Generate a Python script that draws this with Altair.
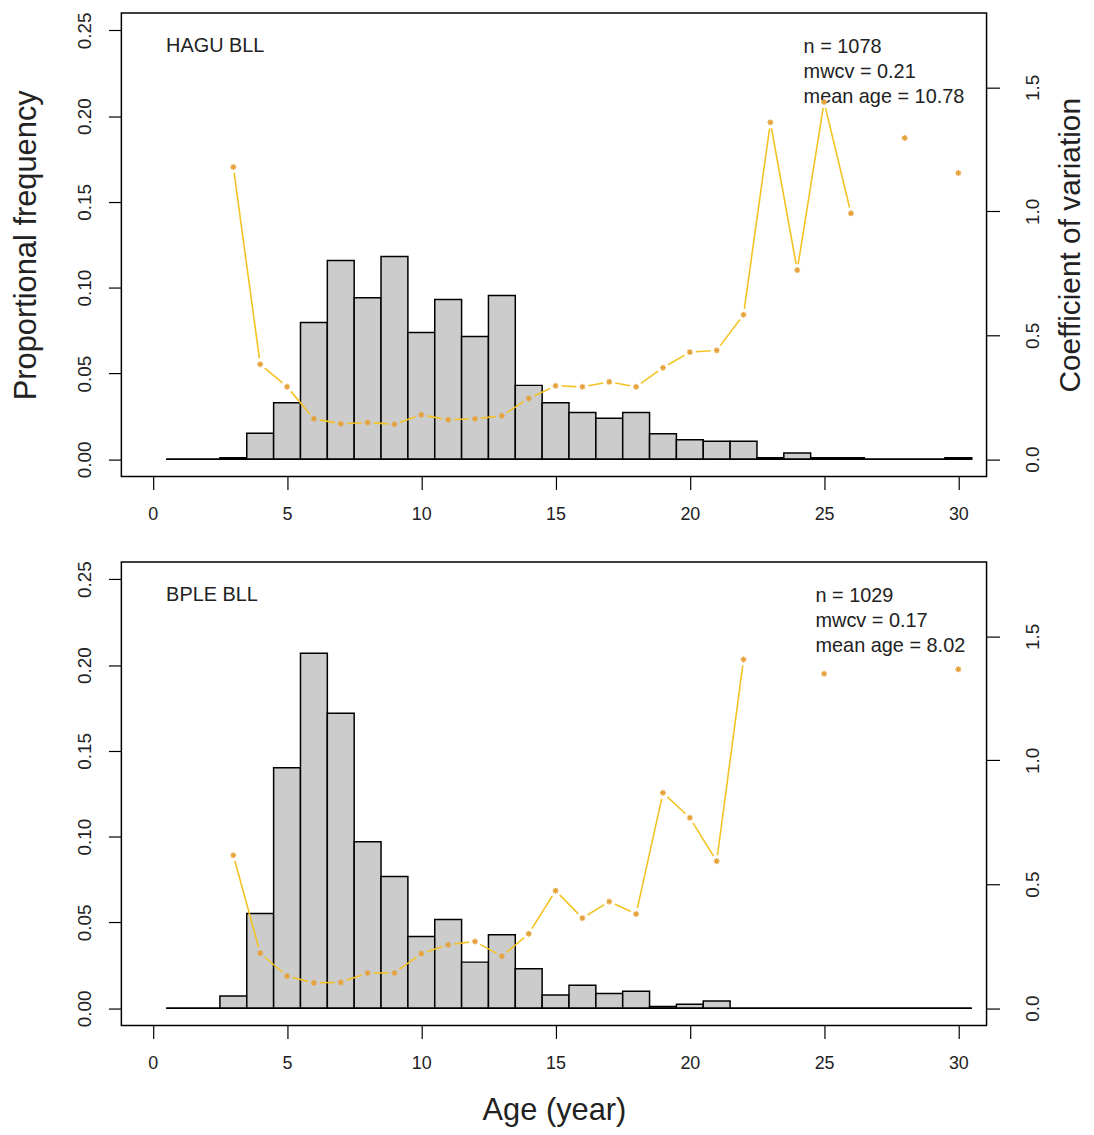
import altair as alt
import pandas as pd
import math

# ---------------- data ----------------
ages = list(range(1, 31))

hagu_freq = [0, 0, 0.001, 0.0152, 0.033, 0.0797, 0.1159, 0.0941, 0.1182, 0.0739,
             0.0931, 0.0716, 0.0955, 0.0431, 0.033, 0.0273, 0.0239, 0.0273, 0.0149, 0.0114,
             0.0105, 0.0105, 0.001, 0.0037, 0.001, 0.001, 0, 0, 0, 0.001]
bple_freq = [0, 0, 0.0071, 0.0553, 0.1402, 0.2068, 0.1719, 0.097, 0.0768, 0.0419,
             0.0518, 0.0269, 0.0428, 0.023, 0.0077, 0.0134, 0.0086, 0.01, 0.001, 0.0023,
             0.0042, 0, 0, 0, 0, 0, 0, 0, 0, 0]

hagu_cv_ages = list(range(3, 27)) + [28, 30]
hagu_cv = [1.179, 0.383, 0.292, 0.163, 0.143, 0.148, 0.141, 0.179, 0.159, 0.163,
           0.175, 0.245, 0.296, 0.292, 0.312, 0.292, 0.369, 0.432, 0.439, 0.583,
           1.359, 0.763, 1.441, 0.992, 1.296, 1.155]
bple_cv_ages = list(range(3, 23)) + [25, 30]
bple_cv = [0.617, 0.222, 0.129, 0.102, 0.104, 0.142, 0.142, 0.22, 0.256, 0.269,
           0.209, 0.3, 0.474, 0.363, 0.43, 0.38, 0.869, 0.768, 0.593, 1.407,
           1.349, 1.367]

hagu_label = "HAGU BLL"
bple_label = "BPLE BLL"
hagu_stats = ["n = 1078", "mwcv = 0.21", "mean age = 10.78"]
bple_stats = ["n = 1029", "mwcv = 0.17", "mean age = 8.02"]

x_ticks = [0, 5, 10, 15, 20, 25, 30]
left_ticks = [0, 0.05, 0.10, 0.15, 0.20, 0.25]
right_ticks = [0, 0.5, 1.0, 1.5]

# ---------------- styling ----------------
FONT = "Liberation Sans"
W, H = 870, 466
XDOM = [-1.17, 31.05]
LDOM = [-0.01, 0.26]
RDOM = [-0.07, 1.80]
BAR_FILL = "#CCCCCC"
LINE_COL = "#F3C324"
PT_COL = "#E6A23A"
TXT = "#222222"
STAR = "M-1,0L1,0M0,-1L0,1M-0.7,-0.7L0.7,0.7M-0.7,0.7L0.7,-0.7"
GAP_PX = 6  # R type="b": line stops short of each point


def bar_frame(freq):
    return pd.DataFrame({
        "age": ages,
        "lo": [a - 0.5 for a in ages],
        "hi": [a + 0.5 for a in ages],
        "freq": freq,
    })


def cv_segments(cv_ages, cv):
    """Segments between consecutive ages, shortened near the points (type='b')."""
    kx = W / (XDOM[1] - XDOM[0])
    ky = H / (RDOM[1] - RDOM[0])
    rows = []
    for i in range(len(cv_ages) - 1):
        a1, a2 = cv_ages[i], cv_ages[i + 1]
        if a2 != a1 + 1:
            continue
        v1, v2 = cv[i], cv[i + 1]
        L = math.hypot((a2 - a1) * kx, (v2 - v1) * ky)
        if L <= 2 * GAP_PX:
            continue
        t = GAP_PX / L
        rows.append({
            "x1": a1 + (a2 - a1) * t, "x2": a2 - (a2 - a1) * t,
            "y1": v1 + (v2 - v1) * t, "y2": v2 - (v2 - v1) * t,
        })
    return pd.DataFrame(rows)


def panel(freq, cv_ages, cv, label, stats, top, stats_x):
    bdf = bar_frame(freq)
    cdf = pd.DataFrame({"age": cv_ages, "cv": cv})
    sdf = cv_segments(cv_ages, cv)
    basedf = pd.DataFrame({"lo": [bdf["lo"].min()], "hi": [bdf["hi"].max()]})

    xs = alt.Scale(domain=XDOM, nice=False, zero=False)
    ls = alt.Scale(domain=LDOM, nice=False, zero=False)
    rs = alt.Scale(domain=RDOM, nice=False, zero=False)

    x_axis = alt.Axis(values=x_ticks, format="d", labelAngle=0, labelFontSize=18,
                      labelPadding=16, labelBaseline="top", labelFlush=False,
                      labelOverlap=False,
                      title=None if top else "Age (year)", titleFontSize=31,
                      titlePadding=24)
    left_axis = alt.Axis(values=left_ticks, format=".2f", orient="left",
                         labelAngle=270, labelAlign="center", labelBaseline="bottom",
                         labelPadding=14, labelFontSize=19, labelFlush=False,
                         labelOverlap=False,
                         title="Proportional frequency" if top else None,
                         titleFontSize=31, titlePadding=33, titleAngle=270,
                         titleBaseline="bottom", titleAlign="center")
    right_axis = alt.Axis(values=right_ticks, format=".1f", orient="right",
                          labelAngle=270, labelAlign="center", labelBaseline="top",
                          labelPadding=24, labelFontSize=19, labelFlush=False,
                          labelOverlap=False,
                          title="Coefficient of variation" if top else None,
                          titleFontSize=30, titlePadding=13, titleAngle=270,
                          titleBaseline="top", titleAlign="center")

    bars = alt.Chart(bdf).mark_bar(fill=BAR_FILL, stroke="black", strokeWidth=1.5).encode(
        x=alt.X("lo:Q", scale=xs, axis=x_axis),
        x2="hi:Q",
        y=alt.Y("freq:Q", scale=ls, axis=left_axis),
        y2=alt.datum(0),
    )
    base = alt.Chart(basedf).mark_rule(color="black", strokeWidth=1.5).encode(
        x=alt.X("lo:Q", scale=xs, axis=x_axis),
        x2="hi:Q",
        y=alt.Y(datum=0, scale=ls, axis=left_axis),
    )
    name = alt.Chart(pd.DataFrame({"t": [label]})).mark_text(
        align="left", baseline="middle", fontSize=20, font=FONT, color=TXT
    ).encode(x=alt.value(45), y=alt.value(33), text="t:N")
    st = alt.Chart(pd.DataFrame({"d": [0]})).mark_text(
        align="left", baseline="top", fontSize=20, font=FONT, color=TXT, lineHeight=25
    ).encode(x=alt.value(stats_x), y=alt.value(24), text=alt.value(stats))

    left = alt.layer(bars, base, name, st)

    segs = alt.Chart(sdf).mark_rule(color=LINE_COL, strokeWidth=1.6).encode(
        x=alt.X("x1:Q", scale=xs, axis=x_axis),
        x2="x2:Q",
        y=alt.Y("y1:Q", scale=rs, axis=right_axis),
        y2="y2:Q",
    )
    pts = alt.Chart(cdf).mark_point(shape=STAR, size=36, color=PT_COL, strokeWidth=1.3,
                                    filled=False, opacity=1).encode(
        x=alt.X("age:Q", scale=xs, axis=x_axis),
        y=alt.Y("cv:Q", scale=rs, axis=right_axis),
    )
    right = alt.layer(segs, pts)

    return alt.layer(left, right).resolve_scale(y="independent").properties(width=W, height=H)


top = panel(hagu_freq, hagu_cv_ages, hagu_cv, hagu_label, hagu_stats, True, 686)
bottom = panel(bple_freq, bple_cv_ages, bple_cv, bple_label, bple_stats, False, 698)

chart = alt.vconcat(top, bottom, spacing=36).properties(
    padding={"left": 2, "top": 0, "right": 0, "bottom": 0}
).configure(font=FONT).configure_view(
    stroke="black", strokeWidth=1.5
).configure_axis(
    grid=False, domain=False, tickColor="black", tickWidth=1.2, tickSize=13,
    labelFont=FONT, titleFont=FONT, labelColor=TXT, titleColor=TXT,
    titleFontWeight="normal",
)

chart.save("out.html", embed_options={"renderer": "svg", "actions": False})
